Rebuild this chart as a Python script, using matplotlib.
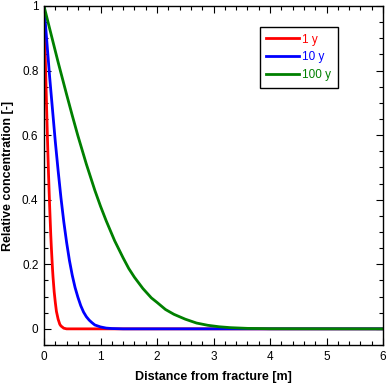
import numpy as np
import matplotlib
matplotlib.use("Agg")
import matplotlib.pyplot as plt
from matplotlib.ticker import MultipleLocator, FormatStrFormatter

plt.rcParams['font.family'] = ['Liberation Sans', 'DejaVu Sans']

# values (distance [m], relative concentration [-])
x_1y = [0, 0.01, 0.02, 0.03, 0.04, 0.05, 0.06, 0.07, 0.08, 0.09, 0.10, 0.11, 0.12,
        0.13, 0.14, 0.15, 0.16, 0.18, 0.20, 0.22, 0.25, 0.28, 0.30, 0.35, 0.40, 6.0]
c_1y = [1, 0.93, 0.86, 0.79, 0.726, 0.66, 0.598, 0.538, 0.48, 0.429, 0.38, 0.335,
        0.29, 0.253, 0.22, 0.187, 0.16, 0.115, 0.082, 0.054, 0.030, 0.014, 0.009,
        0.002, 0.0, 0.0]

x_10y = [0, 0.05, 0.10, 0.15, 0.20, 0.25, 0.30, 0.35, 0.40, 0.45, 0.50, 0.55, 0.60,
         0.65, 0.70, 0.75, 0.80, 0.85, 0.90, 1.0, 1.1, 1.2, 1.4, 6.0]
c_10y = [1, 0.89, 0.78, 0.68, 0.58, 0.49, 0.406, 0.332, 0.268, 0.212, 0.166, 0.128,
         0.098, 0.072, 0.052, 0.0375, 0.027, 0.019, 0.012, 0.006, 0.0024, 0.001,
         0.0, 0.0]

x_100y = [0, 0.1, 0.25, 0.4, 0.5, 0.6, 0.75, 0.9, 1.0, 1.1, 1.25, 1.4, 1.5, 1.6,
          1.75, 1.9, 2.0, 2.15, 2.3, 2.5, 2.7, 2.9, 3.1, 3.3, 3.6, 4.0, 6.0]
c_100y = [1, 0.93, 0.826, 0.726, 0.661, 0.598, 0.510, 0.429, 0.380, 0.335, 0.273,
          0.220, 0.187, 0.160, 0.125, 0.096, 0.082, 0.060, 0.045, 0.030, 0.018,
          0.011, 0.0065, 0.0037, 0.0015, 0.0004, 0.0]

labels = ["1 y", "10 y", "100 y"]
colors = ["#ff0000", "#0000ff", "#008000"]

fig = plt.figure(figsize=(3.87, 3.83), dpi=100)
ax = fig.add_axes([44/387, 1 - 345/383, 339/387, 339/383])

ax.plot(x_1y, c_1y, color=colors[0], lw=2, label=labels[0])
ax.plot(x_10y, c_10y, color=colors[1], lw=2, label=labels[1])
ax.plot(x_100y, c_100y, color=colors[2], lw=2, label=labels[2])

ax.set_xlim(0, 6)
ax.set_ylim(-0.05, 1)
ax.xaxis.set_major_locator(MultipleLocator(1))
ax.xaxis.set_minor_locator(MultipleLocator(0.2))
ax.yaxis.set_major_locator(MultipleLocator(0.2))
ax.yaxis.set_minor_locator(MultipleLocator(0.05))
ax.yaxis.set_major_formatter(FormatStrFormatter('%g'))
ax.tick_params(which='both', direction='in', top=True, right=True,
               labelsize=8.5, width=0.8, pad=4)
ax.tick_params(which='major', length=5)
ax.tick_params(which='minor', length=3)
for s in ax.spines.values():
    s.set_linewidth(1)

ax.set_xlabel("Distance from fracture [m]", fontsize=9, fontweight='bold', labelpad=6)
ax.set_ylabel("Relative concentration [-]", fontsize=9, fontweight='bold', labelpad=6)

# legend box, text coloured like the lines
leg = ax.legend(loc='upper right', bbox_to_anchor=(0.867, 0.938), borderaxespad=0,
                fontsize=8.5, fancybox=False, framealpha=1, edgecolor='black',
                handlelength=2.8, handletextpad=0.25, labelspacing=0.5,
                borderpad=0.55)
leg.get_frame().set_linewidth(1)
for txt, c in zip(leg.get_texts(), colors):
    txt.set_color(c)

fig.savefig("out.png", dpi=100)
